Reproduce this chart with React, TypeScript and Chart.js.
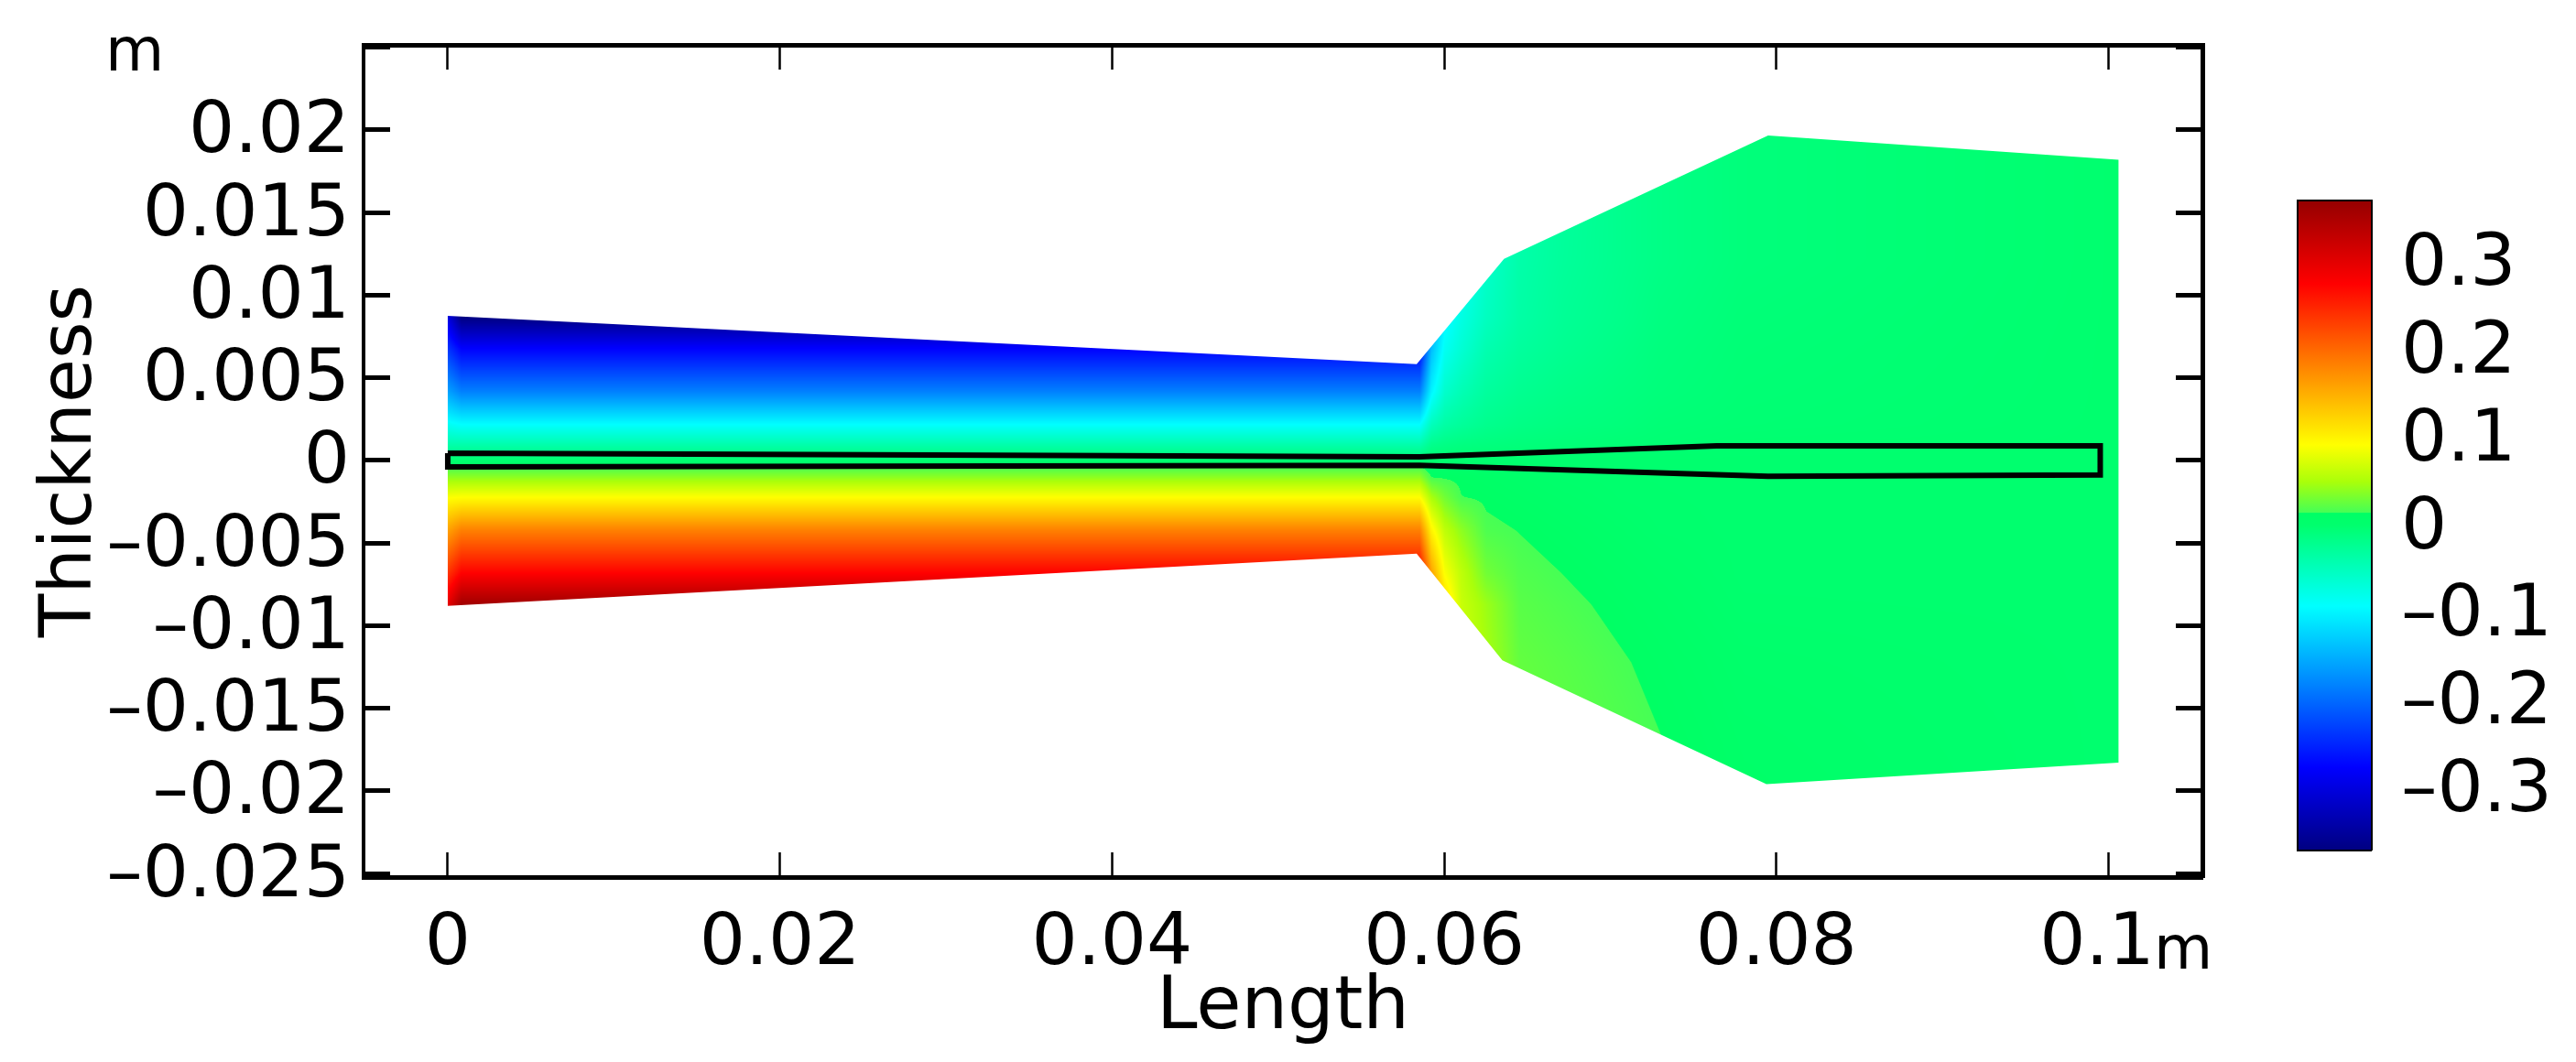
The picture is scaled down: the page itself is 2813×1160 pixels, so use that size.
import { useEffect, useRef } from 'react';
import { Chart, registerables } from 'chart.js';

Chart.register(...registerables);

const FONT = 'DejaVu Sans';

// axis ticks
const xTicks = [0, 0.02, 0.04, 0.06, 0.08, 0.1];
const xTickLabels = ['0', '0.02', '0.04', '0.06', '0.08', '0.1\u00a0'];
const yTicks = [0.025, 0.02, 0.015, 0.01, 0.005, 0, -0.005, -0.01, -0.015, -0.02, -0.025];
const yTickLabels = ['', '0.02', '0.015', '0.01', '0.005', '0', '\u20130.005', '\u20130.01', '\u20130.015', '\u20130.02', '\u20130.025'];
const barTicks = [0.3, 0.2, 0.1, 0, -0.1, -0.2, -0.3];
const barTickLabels = ['0.3', '0.2', '0.1', '0', '\u20130.1', '\u20130.2', '\u20130.3'];

// outer domain of the solution
const domainX = [0, 0.05834, 0.0636, 0.0795, 0.1006, 0.1006, 0.0794, 0.0635, 0.05834, 0];
const domainY = [0.00875, 0.00582, 0.0122, 0.01967, 0.0182, -0.0183, -0.0196, -0.0121, -0.00565, -0.0088];

// thin beam drawn on top
const beamX = [0, 0.0585, 0.0764, 0.0995, 0.0995, 0.0795, 0.0585, 0, 0];
const beamY = [0.00044, 0.00022, 0.00088, 0.00088, -0.00088, -0.00097, -0.0003, -0.00039, 0.00044];

// field values, one row per fieldY entry
const fieldX = [0, 0.0008, 0.0585, 0.0592, 0.06, 0.061, 0.0625, 0.0645, 0.0672, 0.0706, 0.073, 0.078, 0.1006];
const fieldY = [0.0197, 0.0122, 0.0087, 0.0068, 0.0042, 0.0022, 0.001, 0, -0.001, -0.0022, -0.0042, -0.0068, -0.0087, -0.0122, -0.0166, -0.0197];
const rowA = [-0.3, -0.37, -0.37, -0.09, -0.09, -0.09, -0.06, -0.04, -0.03, -0.02, -0.015, -0.008, 0];
const rowB = [-0.3, -0.37, -0.37, -0.09, -0.09, -0.09, -0.06, -0.038, -0.028, -0.02, -0.015, -0.008, 0];
const rowC = [-0.3, -0.37, -0.37, -0.16, -0.1, -0.075, -0.052, -0.035, -0.025, -0.018, -0.012, -0.006, 0];
const rowD = [-0.24, -0.276, -0.276, -0.14, -0.085, -0.065, -0.042, -0.03, -0.022, -0.015, -0.01, -0.005, 0];
const rowE = [-0.16, -0.184, -0.184, -0.1, -0.06, -0.045, -0.03, -0.022, -0.016, -0.011, -0.008, -0.004, 0];
const rowF = [-0.085, -0.092, -0.092, -0.05, -0.035, -0.028, -0.02, -0.015, -0.011, -0.008, -0.005, -0.003, 0];
const rowG = [-0.04, -0.04, -0.04, -0.02, -0.015, -0.012, -0.01, -0.008, -0.006, -0.004, -0.003, -0.001, 0];
const rowH = [0, 0, 0, 0, 0, 0, 0, 0, 0, 0, 0, 0, 0];
const rowI = [0.04, 0.04, 0.04, 0.015, 0.0138, 0.0123, 0.01, 0.007, 0.003, 0.001, 0.0005, 0, 0];
const rowJ = [0.09, 0.092, 0.092, 0.05, 0.03, 0.0153, 0.013, 0.01, 0.006, 0.002, 0.001, 0, 0];
const rowK = [0.16, 0.184, 0.184, 0.1, 0.06, 0.04, 0.0176, 0.0146, 0.0105, 0.0054, 0.002, 0, 0];
const rowL = [0.24, 0.276, 0.276, 0.16, 0.09, 0.06, 0.03, 0.0188, 0.0147, 0.0096, 0.006, 0, 0];
const rowM = [0.3, 0.36, 0.36, 0.2, 0.12, 0.065, 0.045, 0.0215, 0.0174, 0.0123, 0.0087, 0.0012, 0];
const rowN = [0.3, 0.36, 0.36, 0.2, 0.12, 0.07, 0.05, 0.025, 0.021, 0.0159, 0.0123, 0.0048, 0];
const rowO = [0.3, 0.36, 0.36, 0.2, 0.12, 0.07, 0.05, 0.0278, 0.0237, 0.0186, 0.015, 0.0075, 0];
const rowP = [0.3, 0.36, 0.36, 0.2, 0.12, 0.07, 0.05, 0.029, 0.0252, 0.0201, 0.0165, 0.009, 0];
const fieldRows = [rowA, rowB, rowC, rowD, rowE, rowF, rowG, rowH, rowI, rowJ, rowK, rowL, rowM, rowN, rowO, rowP];

// colour scale as seen on the bar, with the small step just above zero
const colorValues = [-0.37, -0.276, -0.184, -0.092, 0, 0.0149, 0.015, 0.05, 0.092, 0.184, 0.276, 0.37];
const colorStops = [
  [0, 0, 130], [0, 0, 255], [0, 128, 255], [0, 255, 255], [0, 255, 110], [0, 255, 100],
  [70, 255, 85], [170, 255, 10], [255, 255, 0], [255, 128, 0], [255, 0, 0], [150, 0, 0],
];

function locate(arr: number[], v: number, descending = false) {
  const n = arr.length - 1;
  for (let i = 0; i < n; i++) {
    const a = arr[i];
    const b = arr[i + 1];
    const inside = descending ? v >= b : v <= b;
    if (inside) {
      const t = (v - a) / (b - a);
      return { i, t: Math.min(1, Math.max(0, t)) };
    }
  }
  return { i: n - 1, t: 1 };
}

function colorFor(v: number) {
  const { i, t } = locate(colorValues, v);
  const a = colorStops[i];
  const b = colorStops[i + 1];
  return [a[0] + (b[0] - a[0]) * t, a[1] + (b[1] - a[1]) * t, a[2] + (b[2] - a[2]) * t];
}

// paints the table through the x/y scales, clipped to the domain outline
const fieldPlugin = {
  id: 'field',
  beforeDatasetsDraw(chart: any) {
    const { ctx, scales } = chart;
    const left = Math.floor(scales.x.getPixelForValue(domainX[0]));
    const right = Math.ceil(scales.x.getPixelForValue(Math.max(...domainX)));
    const top = Math.floor(scales.y.getPixelForValue(Math.max(...domainY)));
    const bottom = Math.ceil(scales.y.getPixelForValue(Math.min(...domainY)));
    const w = right - left;
    const h = bottom - top;
    const off = document.createElement('canvas');
    off.width = w;
    off.height = h;
    const octx = off.getContext('2d')!;
    const img = octx.createImageData(w, h);
    const cols = [];
    for (let px = 0; px < w; px++) cols.push(locate(fieldX, scales.x.getValueForPixel(left + px)));
    for (let py = 0; py < h; py++) {
      const r = locate(fieldY, scales.y.getValueForPixel(top + py), true);
      const r0 = fieldRows[r.i];
      const r1 = fieldRows[r.i + 1];
      for (let px = 0; px < w; px++) {
        const c = cols[px];
        const v0 = r0[c.i] + (r0[c.i + 1] - r0[c.i]) * c.t;
        const v1 = r1[c.i] + (r1[c.i + 1] - r1[c.i]) * c.t;
        const rgb = colorFor(v0 + (v1 - v0) * r.t);
        const k = (py * w + px) * 4;
        img.data[k] = rgb[0];
        img.data[k + 1] = rgb[1];
        img.data[k + 2] = rgb[2];
        img.data[k + 3] = 255;
      }
    }
    octx.putImageData(img, 0, 0);
    ctx.save();
    ctx.beginPath();
    domainX.forEach((x, i) => {
      const px = scales.x.getPixelForValue(x);
      const py = scales.y.getPixelForValue(domainY[i]);
      if (i === 0) ctx.moveTo(px, py);
      else ctx.lineTo(px, py);
    });
    ctx.closePath();
    ctx.clip();
    ctx.drawImage(off, left, top);
    ctx.restore();
  },
};

// the two "m" unit marks
const unitPlugin = {
  id: 'units',
  afterDraw(chart: any) {
    const { ctx } = chart;
    ctx.save();
    ctx.fillStyle = '#000';
    ctx.font = `66px "${FONT}"`;
    ctx.textAlign = 'left';
    ctx.textBaseline = 'alphabetic';
    ctx.fillText('m', 115, 77);
    ctx.fillText('m', 2352, 1058);
    ctx.restore();
  },
};

const barPlugin = {
  id: 'barFill',
  beforeDatasetsDraw(chart: any) {
    const { ctx, chartArea, scales } = chart;
    const g = ctx.createLinearGradient(0, scales.y.getPixelForValue(-0.37), 0, scales.y.getPixelForValue(0.37));
    colorValues.forEach((v, i) => {
      const c = colorStops[i];
      g.addColorStop((v + 0.37) / 0.74, `rgb(${c[0]},${c[1]},${c[2]})`);
    });
    ctx.save();
    ctx.fillStyle = g;
    ctx.fillRect(chartArea.left, chartArea.top, chartArea.right - chartArea.left, chartArea.bottom - chartArea.top);
    ctx.restore();
  },
};

const xTickFont = { family: FONT, size: 79, lineHeight: 1 };
// blank first line plus an 8px line height nudges the vertical-axis labels 4px down onto their ticks
const yTickFont = { family: FONT, size: 79, lineHeight: '8px' };

function frameAxis(extra: any, size: number, isX: boolean, tickWidth: number, tickLength: number, borderWidth: number) {
  return {
    offset: false,
    grid: { drawOnChartArea: false, tickLength: -tickLength, tickWidth, tickColor: '#000' },
    border: { display: true, color: '#000', width: borderWidth },
    afterFit(s: any) {
      if (isX) s.height = size;
      else s.width = size;
      // keep the plot box fixed, labels may hang over it
      s.paddingLeft = 0;
      s.paddingRight = 0;
      s.paddingTop = 0;
      s.paddingBottom = 0;
    },
    ...extra,
  };
}

export default function App() {
  const mainRef = useRef<HTMLCanvasElement>(null);
  const barRef = useRef<HTMLCanvasElement>(null);

  useEffect(() => {
    if (!mainRef.current || !barRef.current) return;

    const setX = (s: any) => { s.ticks = xTicks.map(value => ({ value })); };
    const setY = (s: any) => { s.ticks = yTicks.map(value => ({ value })); };
    const setBar = (s: any) => { s.ticks = barTicks.map(value => ({ value })); };
    const xRange = { min: -0.00507, max: 0.10565 };
    const yRange = { min: -0.02522, max: 0.02515 };

    const main = new Chart(mainRef.current, {
      type: 'scatter',
      data: {
        datasets: [
          {
            label: 'Beam',
            data: beamX.map((x, i) => ({ x, y: beamY[i] })),
            showLine: true,
            borderColor: '#000',
            borderWidth: 6,
            pointRadius: 0,
            tension: 0,
            fill: false,
          },
        ],
      },
      options: {
        animation: false,
        responsive: false,
        devicePixelRatio: 1,
        layout: { padding: 0 },
        plugins: { legend: { display: false }, tooltip: { enabled: false } },
        scales: {
          x: frameAxis({
            type: 'linear', position: 'bottom', ...xRange,
            afterBuildTicks: setX,
            ticks: { font: xTickFont, color: '#000', padding: 62, autoSkip: false, maxRotation: 0, callback: (_v: any, i: number) => xTickLabels[i] },
            title: { display: true, text: 'Length', color: '#000', font: { family: FONT, size: 80, lineHeight: 1 }, padding: { top: 0, bottom: 18 } },
          }, 202, true, 2.5, 27, 5),
          x2: frameAxis({
            type: 'linear', axis: 'x', position: 'top', ...xRange,
            afterBuildTicks: setX,
            ticks: { display: false },
          }, 49, true, 2.5, 27, 5),
          y: frameAxis({
            type: 'linear', position: 'left', ...yRange,
            afterBuildTicks: setY,
            ticks: { font: yTickFont, color: '#000', padding: 44, autoSkip: false, maxRotation: 0, callback: (_v: any, i: number) => ['', yTickLabels[i]] },
            title: { display: true, text: 'Thickness', color: '#000', font: { family: FONT, size: 78, lineHeight: 1 }, padding: { top: 40, bottom: 0 } },
          }, 397, false, 5, 29, 4),
          y2: frameAxis({
            type: 'linear', axis: 'y', position: 'right', ...yRange,
            afterBuildTicks: setY,
            ticks: { display: false },
          }, 408, false, 5, 29, 5),
        },
      },
      plugins: [fieldPlugin, unitPlugin],
    });

    const bar = new Chart(barRef.current, {
      type: 'scatter',
      data: { datasets: [{ data: [] }] },
      options: {
        animation: false,
        responsive: false,
        devicePixelRatio: 1,
        layout: { padding: 0 },
        plugins: { legend: { display: false }, tooltip: { enabled: false } },
        scales: {
          x: frameAxis({ type: 'linear', position: 'bottom', min: 0, max: 1, afterBuildTicks: (s: any) => { s.ticks = []; }, ticks: { display: false } }, 62, true, 0, 0, 4),
          x2: frameAxis({ type: 'linear', axis: 'x', position: 'top', min: 0, max: 1, afterBuildTicks: (s: any) => { s.ticks = []; }, ticks: { display: false } }, 60, true, 0, 0, 4),
          y: frameAxis({ type: 'linear', position: 'left', min: -0.37, max: 0.37, afterBuildTicks: setBar, ticks: { display: false } }, 60, false, 4, 17, 4),
          y2: frameAxis({
            type: 'linear', axis: 'y', position: 'right', min: -0.37, max: 0.37,
            afterBuildTicks: setBar,
            ticks: { font: yTickFont, color: '#000', padding: 50, autoSkip: false, maxRotation: 0, callback: (_v: any, i: number) => ['', barTickLabels[i]] },
          }, 224, false, 4, 17, 4),
        },
      },
      plugins: [barPlugin],
    });

    return () => {
      main.destroy();
      bar.destroy();
    };
  }, []);

  return (
    <div style={{ position: 'absolute', left: 0, top: 0, width: 2813, height: 1160, background: '#fff', overflow: 'hidden' }}>
      <canvas ref={mainRef} width={2813} height={1160} style={{ position: 'absolute', left: 0, top: 0 }} />
      <canvas ref={barRef} width={363} height={830} style={{ position: 'absolute', left: 2450, top: 160 }} />
    </div>
  );
}
